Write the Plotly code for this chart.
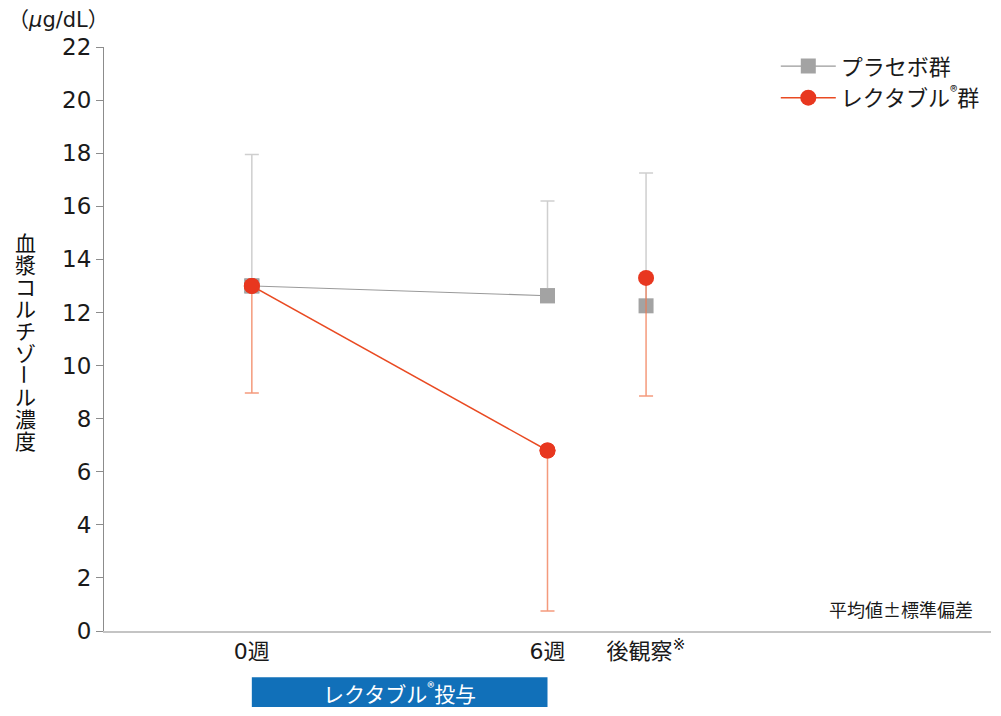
import plotly.graph_objects as go

# data
weeks = [0, 6, 8]
week_labels = ["0週", "6週", "後観察<sup>※</sup>"]
placebo_mean = [13.0, 12.63, 12.25]
placebo_sd = [4.95, 3.57, 5.0]
rekutaburu_mean = [13.0, 6.8, 13.3]
rekutaburu_sd = [4.03, 6.05, 4.45]
y_title = "血漿コルチゾール濃度"

FONT = "DejaVu Sans, Noto Sans CJK JP"
JP = "Noto Sans CJK JP"
GREY = "#a3a3a3"
RED = "#e8371f"

fig = go.Figure()

# placebo: line for 0-6 weeks, markers with upper SD everywhere
fig.add_trace(go.Scatter(
    x=weeks[:2], y=placebo_mean[:2], mode="lines+markers",
    line=dict(color="#9a9a9a", width=1.2),
    marker=dict(symbol="square", size=15, color=GREY),
    name="プラセボ群", showlegend=True))
fig.add_trace(go.Scatter(
    x=weeks, y=placebo_mean, mode="markers",
    marker=dict(symbol="square", size=15, color=GREY),
    error_y=dict(type="data", array=placebo_sd, arrayminus=[0] * 3,
                 symmetric=False, color="#cfcfcf", thickness=1.5, width=7),
    showlegend=False, hoverinfo="skip"))

# rekutaburu: line for 0-6 weeks, markers with lower SD
fig.add_trace(go.Scatter(
    x=weeks[:2], y=rekutaburu_mean[:2], mode="lines+markers",
    line=dict(color="#e94a22", width=1.5),
    marker=dict(symbol="circle", size=16, color=RED),
    name="レクタブル<sup>®</sup>群", showlegend=True))
fig.add_trace(go.Scatter(
    x=weeks, y=rekutaburu_mean, mode="markers",
    marker=dict(symbol="circle", size=16, color=RED),
    error_y=dict(type="data", array=[0] * 3, arrayminus=rekutaburu_sd,
                 symmetric=False, color="rgba(240,120,80,0.75)", thickness=1.5, width=7),
    showlegend=False, hoverinfo="skip"))

# page has an 8px body margin, so the figure is drawn 8px smaller
fig.update_layout(
    width=993, height=708,
    margin=dict(l=96, r=10, t=39, b=85),
    plot_bgcolor="white", paper_bgcolor="white",
    font=dict(family=FONT, size=20, color="#1a1a1a"),
    legend=dict(x=0.993, xanchor="right", y=1.003, yanchor="top",
                font=dict(family=JP, size=22), itemwidth=55, tracegroupgap=0,
                bgcolor="rgba(0,0,0,0)"),
    xaxis=dict(range=[-3.0, 15.0], tickvals=weeks, ticktext=week_labels,
               showgrid=False, zeroline=False, showline=True,
               linecolor="#c4c4c4", linewidth=2, ticks="",
               tickfont=dict(size=22, color="#1a1a1a")),
    yaxis=dict(range=[0, 22], dtick=2, showgrid=False, zeroline=False,
               showline=True, linecolor="#8c8c8c", linewidth=1.2,
               ticks="outside", ticklen=7, tickcolor="#8c8c8c",
               tickfont=dict(size=23, color="#1a1a1a")),
)

# unit label
fig.add_annotation(text="（<i>μ</i>g/dL）", xref="paper", yref="paper",
                   x=-0.11, y=1.046, xanchor="left", yanchor="middle",
                   showarrow=False, font=dict(size=21))

# vertical axis title, stacked one character at a time (ー turned upright)
for i, ch in enumerate(y_title):
    fig.add_annotation(text=ch, xref="paper", yref="paper",
                       x=-0.089, y=(631 - 242 - 22 * i) / 584,
                       xanchor="center", yanchor="middle", showarrow=False,
                       borderpad=0,
                       textangle=90 if ch == "ー" else 0,
                       font=dict(family=JP, size=21, color="#111111"))

# footnote
fig.add_annotation(text="平均値±標準偏差", xref="paper", yref="paper",
                   x=0.982, y=0.012, xanchor="right", yanchor="bottom",
                   showarrow=False, font=dict(family=JP, size=18))

# dosing period bar
fig.add_shape(type="rect", xref="x", yref="paper", x0=weeks[0], x1=weeks[1],
              y0=-0.130, y1=-0.079, fillcolor="#1170b9", line=dict(width=0))
fig.add_annotation(text="レクタブル<sup>®</sup>投与", xref="x", yref="paper",
                   x=(weeks[0] + weeks[1]) / 2, y=-0.1045, xanchor="center",
                   yanchor="middle", showarrow=False,
                   font=dict(family=JP, size=21, color="white"))

fig.write_html("out.html")
